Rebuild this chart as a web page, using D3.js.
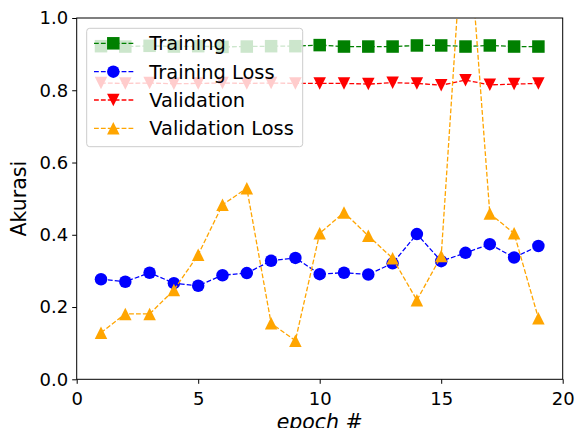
<!DOCTYPE html>
<html>
<head>
<meta charset="utf-8">
<script src="https://cdn.jsdelivr.net/npm/d3@7"></script>
<style>
	body { margin: 0; background: #fff; }
	text { font-family: "DejaVu Sans", sans-serif; fill: #000; }
</style>
</head>
<body>
<div id="chart"></div>
<script>
//Epochs and the values
var epochs = [1,2,3,4,5,6,7,8,9,10,11,12,13,14,15,16,17,18,19];

var training = [0.922,0.921,0.923,0.921,0.922,0.920,0.921,0.922,0.922,0.925,0.921,0.921,0.921,0.924,0.924,0.921,0.924,0.921,0.921];
var trainingLoss = [0.277,0.270,0.295,0.266,0.259,0.288,0.294,0.328,0.336,0.291,0.295,0.290,0.321,0.402,0.327,0.350,0.374,0.337,0.369];
var validation = [0.820,0.819,0.820,0.818,0.819,0.820,0.819,0.820,0.819,0.819,0.819,0.817,0.821,0.819,0.814,0.828,0.815,0.817,0.819];
var validationLoss = [0.129,0.181,0.181,0.247,0.345,0.483,0.529,0.155,0.107,0.404,0.462,0.397,0.335,0.219,0.341,1.36,0.459,0.404,0.169];

var xTicks = [0,5,10,15,20];
var yTicks = [0,0.2,0.4,0.6,0.8,1.0];

//Series setup, same order as the legend
var series = [
	{name: "Training", values: training, color: "green", marker: "square"},
	{name: "Training Loss", values: trainingLoss, color: "blue", marker: "circle"},
	{name: "Validation", values: validation, color: "red", marker: "down"},
	{name: "Validation Loss", values: validationLoss, color: "orange", marker: "up"}
];

//Margins so the plot box lands where the reference has it
var margin = {top: 18, right: 13.3, bottom: 48.7, left: 76.7},
	width = 576 - margin.left - margin.right,
	height = 428 - margin.top - margin.bottom;

var svg = d3.select("#chart")
	.append("svg")
	.attr("width", 576)
	.attr("height", 428)
	.append("g")
	.attr("transform", "translate(" + margin.left + "," + margin.top + ")");

var x = d3.scaleLinear().domain([0, 20]).range([0, width]);
var y = d3.scaleLinear().domain([0, 1]).range([height, 0]);

//Clip so the spike in validation loss is cut at the top
svg.append("clipPath")
	.attr("id", "plot-clip")
	.append("rect")
	.attr("width", width)
	.attr("height", height);

//Marker drawing, size is roughly the matplotlib marker size
var ms = 12.5;
function drawMarker(sel, type, color)
{
	if(type == "square")
	{
		sel.append("rect")
			.attr("x", -ms / 2).attr("y", -ms / 2)
			.attr("width", ms).attr("height", ms)
			.attr("fill", color);
	}
	else if(type == "circle")
	{
		sel.append("circle")
			.attr("r", ms / 2)
			.attr("fill", color);
	}
	else
	{
		var h = ms / 2;
		var pts = type == "up"
			? [[0,-h],[-h,h],[h,h]]
			: [[0,h],[-h,-h],[h,-h]];
		sel.append("path")
			.attr("d", "M" + pts.join("L") + "Z")
			.attr("fill", color);
	}
}

var line = d3.line()
	.x(function(d, i){ return x(epochs[i]); })
	.y(function(d){ return y(d); });

var plot = svg.append("g").attr("clip-path", "url(#plot-clip)");

series.forEach(function(s)
{
	plot.append("path")
		.datum(s.values)
		.attr("fill", "none")
		.attr("stroke", s.color)
		.attr("stroke-width", 1.3)
		.attr("stroke-dasharray", "4.8,2.1")
		.attr("d", line);

	plot.selectAll(null)
		.data(s.values)
		.enter()
		.append("g")
		.attr("transform", function(d, i){ return "translate(" + x(epochs[i]) + "," + y(d) + ")"; })
		.each(function(){ drawMarker(d3.select(this), s.marker, s.color); });
});

//Axes
var xAxis = svg.append("g")
	.attr("transform", "translate(0," + height + ")")
	.call(d3.axisBottom(x).tickValues(xTicks).tickFormat(d3.format("d")).tickSize(4.5).tickPadding(4));

var yAxis = svg.append("g")
	.call(d3.axisLeft(y).tickValues(yTicks).tickFormat(d3.format(".1f")).tickSize(4.5).tickPadding(4));

[xAxis, yAxis].forEach(function(a)
{
	a.select(".domain").remove();
	a.selectAll("line").attr("stroke", "#000").attr("stroke-width", 1);
	a.selectAll("text")
		.style("font-family", "DejaVu Sans")
		.style("font-size", "18px")
		.attr("fill", "#000");
});
xAxis.selectAll("text").attr("dy", "0.95em");

//Frame around the plot
svg.append("rect")
	.attr("width", width)
	.attr("height", height)
	.attr("fill", "none")
	.attr("stroke", "#000")
	.attr("stroke-width", 1);

//Axis labels (the x label sits on the bottom edge like in the original)
svg.append("text")
	.attr("x", width / 2)
	.attr("y", 410.5)
	.attr("text-anchor", "middle")
	.style("font-size", "20.5px")
	.style("font-style", "italic")
	.text("epoch #");

svg.append("text")
	.attr("transform", "translate(" + (-51) + "," + (height / 2) + ") rotate(-90)")
	.attr("text-anchor", "middle")
	.style("font-size", "20.5px")
	.text("Akurasi");

//Legend, translucent box drawn over the data
var legend = svg.append("g")
	.attr("transform", "translate(" + (86.7 - margin.left) + "," + (28.3 - margin.top) + ")");

legend.append("rect")
	.attr("width", 216)
	.attr("height", 118.4)
	.attr("rx", 3)
	.attr("fill", "#fff")
	.attr("fill-opacity", 0.8)
	.attr("stroke", "#ccc")
	.attr("stroke-width", 1);

var rowY = [15, 43.4, 71.7, 100];
series.forEach(function(s, i)
{
	var row = legend.append("g")
		.attr("transform", "translate(0," + rowY[i] + ")");

	row.append("line")
		.attr("x1", 7.3).attr("x2", 46.6)
		.attr("stroke", s.color)
		.attr("stroke-width", 1.3)
		.attr("stroke-dasharray", "4.8,2.1");

	var m = row.append("g").attr("transform", "translate(26.6,0)");
	drawMarker(m, s.marker, s.color);

	row.append("text")
		.attr("x", 62.6)
		.attr("dy", "0.36em")
		.style("font-size", "19.4px")
		.text(s.name);
});
</script>
</body>
</html>
